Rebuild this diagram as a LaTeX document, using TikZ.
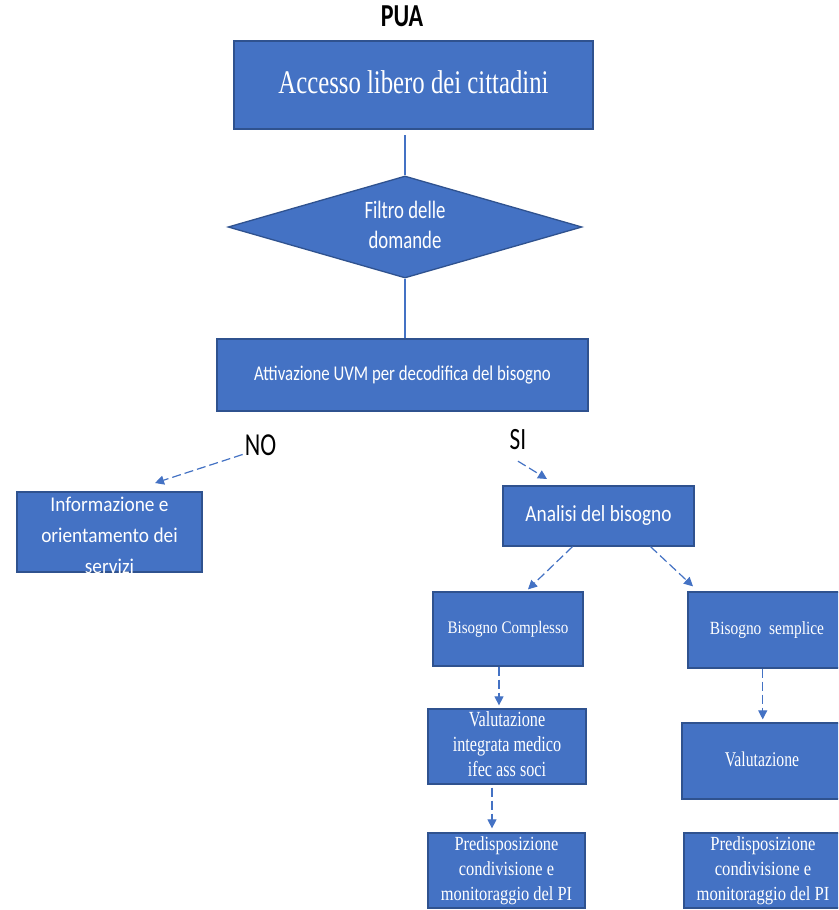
\documentclass[tikz,border=0pt]{standalone}
\usepackage{graphicx}
\usepackage{fontspec}
\setmainfont{Liberation Serif}
\newfontfamily\calibri{Carlito}
\usetikzlibrary{shapes.geometric,arrows.meta}

\definecolor{boxfill}{HTML}{4472C4}
\definecolor{boxline}{HTML}{2F528F}

% narrow the text the way the original prints it
\newcommand{\squash}[2][0.75]{\scalebox{#1}[1]{\begin{tabular}{@{}c@{}}#2\end{tabular}}}

\tikzset{
  blok/.style={draw=boxline, fill=boxfill, line width=1.3pt, text=white, inner sep=0pt},
  flow/.style={draw=boxfill, line width=1.2pt},
  dflow/.style={flow, dash pattern=on 9pt off 4pt, -{Triangle[length=9pt,width=9pt]}},
}

\begin{document}
\begin{tikzpicture}[x=1pt, y=-1pt]

  \clip (0,0) rectangle (838,910);
  \fill[white] (0,0) rectangle (838,910);

  % top part
  \node (pua) at (402,19) {\calibri\fontsize{32}{36}\selectfont\bfseries\squash{PUA}};
  \node[blok, minimum width=359pt, minimum height=88pt,
        font=\fontsize{33}{40}\selectfont] (acc) at (413.5,85) {\squash{Accesso libero dei cittadini}};
  \node[blok, diamond, aspect=3.5, minimum width=354pt, minimum height=102pt,
        font=\calibri\fontsize{25}{30}\selectfont] (filtro) at (405,227) {\squash{Filtro delle\\domande}};
  \node[blok, minimum width=371pt, minimum height=72pt,
        font=\calibri\fontsize{21}{25}\selectfont] (uvm) at (402.5,375) {\squash[0.8]{Attivazione UVM per decodifica del bisogno}};

  \draw[flow, shorten >=5pt] (filtro.north) -- (filtro.north |- acc.south);
  \draw[flow] (filtro.south) -- (filtro.south |- uvm.north);

  % NO branch
  \node[inner sep=2pt, font=\calibri\fontsize{32}{36}\selectfont] (no) at (260.5,448.5) {\squash{NO}};
  \node[blok, minimum width=185pt, text height=49pt, text depth=31pt,
        font=\calibri\fontsize{21}{31}\selectfont] (info) at (109.5,532) {\squash[0.92]{Informazione e\\orientamento dei\\servizi}};
  \coordinate (noTip) at (155,483);
  \draw[dflow] ([yshift=-6pt]no.west) -- (noTip);

  % SI branch
  \node[inner sep=1pt, font=\calibri\fontsize{31}{36}\selectfont] (si) at (518,442) {\squash{SI}};
  \node[blok, minimum width=191pt, minimum height=60pt,
        font=\calibri\fontsize{23}{28}\selectfont] (anal) at (598.5,516) {\squash[0.84]{Analisi del bisogno}};
  \coordinate (siTip) at (547,479);
  \draw[dflow] (si.south) -- (siTip);

  \node[blok, minimum width=150pt, minimum height=74pt,
        font=\fontsize{17.6}{21}\selectfont] (compl) at (508,629) {\squash[0.855]{Bisogno Complesso}};
  \node[blok, minimum width=158pt, minimum height=76pt,
        font=\fontsize{18.6}{22}\selectfont] (sempl) at (767,630) {\squash[0.83]{Bisogno\ \ semplice}};
  \draw[dflow] ([xshift=-26pt]anal.south) -- ([xshift=20pt,yshift=2pt]compl.north);
  \draw[dflow] ([xshift=52pt]anal.south) -- ([xshift=-74pt,yshift=5pt]sempl.north);

  % complex need
  \node[blok, minimum width=158pt, minimum height=75pt,
        font=\fontsize{21.6}{25}\selectfont] (integ) at (507,746.5) {\squash{Valutazione\\integrata medico\\ifec ass soci}};
  \node[blok, minimum width=157pt, minimum height=75pt,
        font=\fontsize{20}{25}\selectfont] (pdL) at (506.5,870.5) {\squash[0.82]{Predisposizione\\condivisione e\\monitoraggio del PI}};
  \draw[dflow, shorten >=3pt] ([xshift=-9pt]compl.south) -- ([xshift=-8pt]integ.north);
  \draw[dflow, shorten <=3pt, shorten >=4pt] ([xshift=-15pt]integ.south) -- ([xshift=-14.5pt]pdL.north);

  % simple need
  \node[blok, minimum width=160pt, minimum height=76pt,
        font=\fontsize{21}{25}\selectfont] (val) at (762,761) {\squash{Valutazione}};
  \node[blok, minimum width=158pt, minimum height=75pt,
        font=\fontsize{20}{25}\selectfont] (pdR) at (763,870.5) {\squash[0.83]{Predisposizione\\condivisione e\\monitoraggio del PI}};
  \draw[dflow, shorten >=3pt] ([xshift=-4.3pt]sempl.south) -- ([xshift=0.7pt]val.north);

\end{tikzpicture}
\end{document}
